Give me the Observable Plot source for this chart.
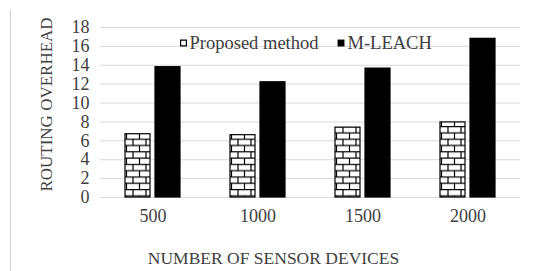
<!DOCTYPE html>
<html><head><meta charset="utf-8">
<script src="https://cdn.jsdelivr.net/npm/d3@7"></script>
<script src="https://cdn.jsdelivr.net/npm/@observablehq/plot@0.6"></script>
<style>
body{margin:0;background:#fff;}
#chart{position:relative;width:539px;height:271px;}
#border{position:absolute;left:10px;top:10px;width:1px;height:261px;background:#d0d0d0;}
#chart svg text{font-family:"Liberation Serif","Times New Roman",serif;}
</style>
</head><body>
<div id="chart"><div id="border"></div></div>
<script>
const categories = ["500", "1000", "1500", "2000"];
const seriesNames = ["Proposed method", "M-LEACH"];
const proposed = [6.7, 6.6, 7.4, 7.95];
const mleach = [13.8, 12.2, 13.65, 16.8];
const yTicks = [0, 2, 4, 6, 8, 10, 12, 14, 16, 18];
const xTitle = "NUMBER OF SENSOR DEVICES";
const yTitle = "ROUTING OVERHEAD";

const data = [];
categories.forEach((c, i) => {
  data.push({n: c, s: seriesNames[0], v: proposed[i]});
  data.push({n: c, s: seriesNames[1], v: mleach[i]});
});

const font = "Liberation Serif";
const svg = Plot.plot({
  width: 539, height: 271,
  marginLeft: 100, marginRight: 19, marginTop: 27, marginBottom: 74,
  style: {fontFamily: font, background: "transparent", color: "#404040"},
  fx: {domain: categories, padding: 0, label: null},
  x: {domain: seriesNames, paddingInner: 1/6, paddingOuter: 0.833, axis: null},
  y: {domain: [0, 18], label: null},
  marks: [
    Plot.gridY(yTicks, {stroke: "#d9d9d9", strokeOpacity: 1, strokeWidth: 1}),
    Plot.axisY(yTicks, {tickSize: 0, tickPadding: 11, fontSize: 18, label: null, fill: "#404040", fontFamily: font}),
    Plot.axisFx({anchor: "bottom", tickSize: 0, tickPadding: 12, fontSize: 18, label: null, fill: "#404040", fontFamily: font}),
    Plot.barY(data, {fx: "n", x: "s", y: "v",
      fill: d => d.s === seriesNames[0] ? "url(#brick)" : "#000",
      stroke: "#000", strokeWidth: 1.2}),
    Plot.text([xTitle], {text: d => d, frameAnchor: "bottom", dx: -37, dy: 61, textAnchor: "middle", lineAnchor: "middle", fontSize: 17.5, fill: "#404040", fontFamily: font, facet: "super"}),
    Plot.text([yTitle], {text: d => d, frameAnchor: "left", dx: -54, dy: -8, rotate: -90, textAnchor: "middle", lineAnchor: "middle", fontSize: 17, fill: "#404040", fontFamily: font, facet: "super"}),
    Plot.text([seriesNames[0]], {text: d => d, frameAnchor: "top-left", dx: 89, dy: 16, textAnchor: "start", lineAnchor: "middle", fontSize: 18.5, fill: "#404040", fontFamily: font, facet: "super"}),
    Plot.text([seriesNames[1]], {text: d => d, frameAnchor: "top-left", dx: 247, dy: 16, textAnchor: "start", lineAnchor: "middle", fontSize: 18.5, fill: "#404040", fontFamily: font, facet: "super"}),
    Plot.dot([seriesNames[0]], {frameAnchor: "top-left", dx: 83, dy: 15.5, symbol: "square", r: 3.3, fill: "#fff", stroke: "#000", strokeWidth: 1.2, facet: "super"}),
    Plot.dot([seriesNames[1]], {frameAnchor: "top-left", dx: 240.5, dy: 15.5, symbol: "square", r: 3.9, fill: "#000", stroke: "none", facet: "super"})
  ]
});
const defs = d3.select(svg).insert("defs", ":first-child");
const pat = defs.append("pattern").attr("id", "brick").attr("patternUnits", "userSpaceOnUse")
  .attr("width", 13).attr("height", 12.6);
pat.append("rect").attr("width", 13).attr("height", 12.6).attr("fill", "#fff");
pat.append("path").attr("d", "M0,0.5H13M0,6.8H13M3,0V6.3M9.5,6.3V12.6")
  .attr("stroke", "#000").attr("stroke-width", 1.2).attr("fill", "none");
svg.style.position = "absolute"; svg.style.left = "0"; svg.style.top = "0";
document.getElementById("chart").appendChild(svg);
</script>
</body></html>
